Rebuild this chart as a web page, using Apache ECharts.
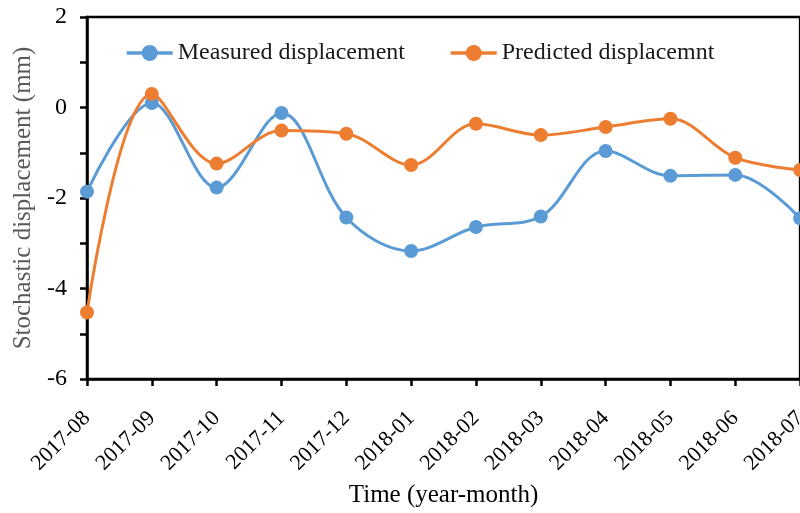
<!DOCTYPE html>
<html><head><meta charset="utf-8">
<script src="https://cdn.jsdelivr.net/npm/echarts@6/dist/echarts.min.js"></script>
<style>html,body{margin:0;padding:0;overflow:hidden;background:#fff}#c{width:810px;height:513px}</style>
</head><body><div id="c"></div>
<script>
const categories = ['2017-08','2017-09','2017-10','2017-11','2017-12','2018-01','2018-02','2018-03','2018-04','2018-05','2018-06','2018-07'];
const measured = [-1.86, 0.10, -1.77, -0.12, -2.43, -3.17, -2.64, -2.41, -0.96, -1.51, -1.49, -2.45];
const predicted = [-4.53, 0.30, -1.24, -0.51, -0.58, -1.27, -0.36, -0.61, -0.43, -0.25, -1.11, -1.38];
const yTicks = [-6, -4, -2, 0, 2];
const FONT = '"Liberation Serif", "Times New Roman", serif';
const chart = echarts.init(document.getElementById('c'), null, {renderer:'canvas'});
chart.setOption({
  animation: false,
  backgroundColor: '#fff',
  grid: {left: 87, right: 7, top: 17, bottom: 132, show: true, borderColor: '#000', borderWidth: 2.5, backgroundColor: 'transparent'},
  legend: {
    left: 120, top: 36, itemWidth: 46, itemHeight: 20, itemGap: 44,
    lineStyle: {width: 3.5},
    textStyle: {fontFamily: FONT, fontSize: 24, color: '#1a1a1a'},
    data: ['Measured displacement', 'Predicted displacemnt']
  },
  xAxis: {
    type: 'category', data: categories, boundaryGap: false,
    name: 'Time (year-month)', nameLocation: 'middle', nameGap: 104,
    nameTextStyle: {fontFamily: FONT, fontSize: 25, color: '#000'},
    axisLine: {onZero: false, lineStyle: {color: '#000', width: 2.5}},
    axisTick: {alignWithLabel: true, length: 7, lineStyle: {width: 2.5, color: '#000'}},
    axisLabel: {rotate: 45, fontFamily: FONT, fontSize: 22, color: '#000', margin: 36, interval: 0},
    splitLine: {show: false}
  },
  yAxis: {
    type: 'value', min: -6, max: 2, interval: 1,
    name: 'Stochastic displacement (mm)', nameLocation: 'middle', nameGap: 46,
    nameTextStyle: {fontFamily: FONT, fontSize: 25, color: '#595959'},
    axisLine: {show: true, lineStyle: {color: '#000', width: 2.5}},
    axisTick: {show: true, length: 7, lineStyle: {width: 2.5, color: '#000'}},
    axisLabel: {fontFamily: FONT, fontSize: 24, color: '#000', margin: 20,
      formatter: v => yTicks.includes(v) ? String(v) : ''},
    splitLine: {show: false}
  },
  series: [
    {name: 'Measured displacement', type: 'line', data: measured, smooth: 0.35,
     symbol: 'circle', symbolSize: 14, itemStyle: {color: '#5B9BD5'},
     lineStyle: {color: '#5B9BD5', width: 3}},
    {name: 'Predicted displacemnt', type: 'line', data: predicted, smooth: 0.35,
     symbol: 'circle', symbolSize: 14, itemStyle: {color: '#ED7D31'},
     lineStyle: {color: '#ED7D31', width: 3}}
  ]
});
</script></body></html>
